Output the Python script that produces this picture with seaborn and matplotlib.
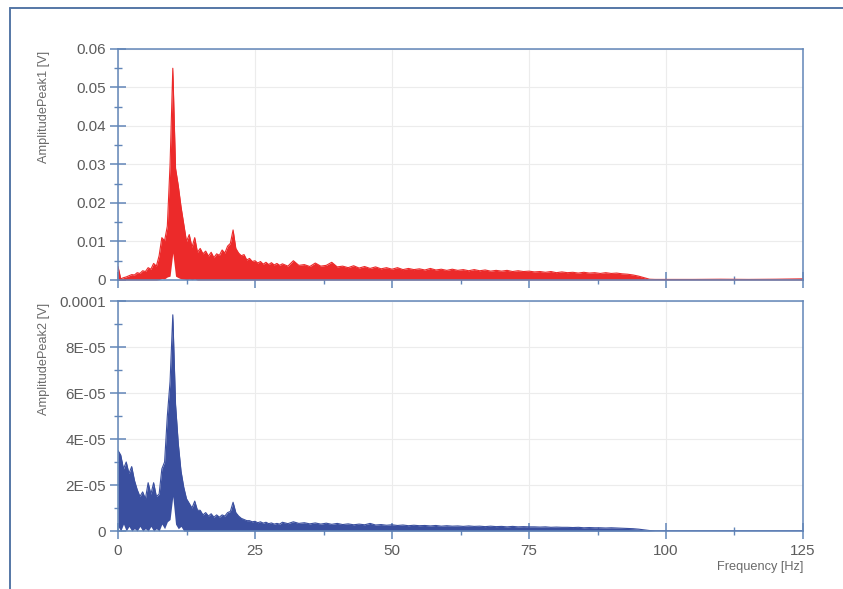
import numpy as np
import pandas as pd
import seaborn as sns
import matplotlib.pyplot as plt
from matplotlib.lines import Line2D
from matplotlib.ticker import MultipleLocator

# frequency grid of the read-off samples [Hz]
freq = np.concatenate([np.arange(0, 30, 0.5), np.arange(30, 100, 1.0), np.arange(100, 126, 5.0)])

# AmplitudePeak1, upper / lower edge of the spectrum band [mV]
peak1_hi = [3.5, 0.3, 0.6, 0.8, 1.1, 1.4, 1.3, 1.9, 1.7, 2.4,
            2.2, 3.2, 2.8, 4.3, 3.6, 6.3, 11.0, 10.2, 14.0, 30.0,
            55.0, 29.0, 24.5, 19.0, 14.5, 10.0, 11.8, 8.5, 11.0, 7.2,
            8.2, 6.8, 7.5, 6.2, 7.2, 5.8, 6.8, 6.4, 7.8, 7.0,
            8.8, 9.5, 13.0, 8.2, 7.0, 6.3, 6.6, 5.2, 5.6, 4.8,
            5.0, 4.4, 4.8, 4.1, 4.6, 4.0, 4.5, 3.9, 4.3, 3.8,
            4.2, 3.6, 5.0, 3.8, 4.0, 3.5, 4.4, 3.6, 3.8, 4.6,
            3.4, 3.6, 3.2, 3.7, 3.1, 3.5, 3.0, 3.4, 2.9, 3.2,
            2.8, 3.2, 2.7, 3.0, 2.7, 2.9, 2.6, 3.0, 2.6, 2.8,
            2.5, 2.8, 2.5, 2.7, 2.4, 2.7, 2.4, 2.6, 2.3, 2.5,
            2.3, 2.5, 2.2, 2.4, 2.2, 2.3, 2.1, 2.2, 2.0, 2.2,
            1.9, 2.1, 1.9, 2.0, 1.8, 2.0, 1.8, 1.9, 1.7, 1.9,
            1.7, 1.8, 1.6, 1.5, 1.3, 1.0, 0.6, 0.2, 0.15, 0.15,
            0.15, 0.15, 0.2, 0.15, 0.2, 0.3]
peak1_lo = ([0, 0, 0, 0, 0, 0, 0, 0, 0, 0,
             0, 0, 0, 0, 0, 0.1, 0.4, 0.3, 0.8, 1.0,
             7.0, 1.0, 0.6, 0.3, 0.2, 0.1, 0.2, 0.1, 0.2, 0]
            + [0.0] * 30 + [0.0] * 70 + [0.0] * 6)

# AmplitudePeak2, upper / lower edge of the spectrum band [1E-05 V]
peak2_hi = [3.5, 3.3, 2.7, 3.0, 2.5, 2.8, 2.2, 1.8, 1.5, 1.7,
            1.4, 2.1, 1.6, 2.1, 1.5, 1.6, 2.7, 3.0, 5.0, 6.5,
            9.4, 5.5, 3.8, 2.6, 1.9, 1.4, 1.2, 1.0, 1.3, 0.9,
            0.9, 0.7, 0.8, 0.65, 0.75, 0.6, 0.7, 0.6, 0.7, 0.65,
            0.8, 0.85, 1.25, 0.8, 0.65, 0.55, 0.5, 0.45, 0.45, 0.4,
            0.42, 0.36, 0.4, 0.34, 0.38, 0.32, 0.35, 0.3, 0.33, 0.3,
            0.38, 0.32, 0.4, 0.33, 0.36, 0.31, 0.35, 0.3, 0.34, 0.29,
            0.33, 0.28, 0.31, 0.27, 0.3, 0.27, 0.33, 0.26, 0.28, 0.25,
            0.27, 0.24, 0.26, 0.23, 0.25, 0.23, 0.24, 0.22, 0.24, 0.21,
            0.23, 0.21, 0.22, 0.2, 0.22, 0.2, 0.21, 0.19, 0.21, 0.19,
            0.2, 0.18, 0.2, 0.18, 0.19, 0.18, 0.18, 0.17, 0.18, 0.16,
            0.17, 0.16, 0.16, 0.15, 0.16, 0.14, 0.15, 0.14, 0.14, 0.13,
            0.14, 0.13, 0.12, 0.11, 0.1, 0.08, 0.05, 0.02, 0.01, 0.01,
            0.01, 0.01, 0.01, 0.01, 0.01, 0.01]
peak2_lo = ([0.2, 0.0, 0.3, 0.0, 0.2, 0.0, 0.1, 0.0, 0.2, 0.0,
             0.1, 0.0, 0.2, 0.0, 0.1, 0.0, 0.3, 0.1, 0.4, 0.5,
             1.5, 0.3, 0.1, 0.2, 0.0, 0.0]
            + [0.0] * 34 + [0.0] * 70 + [0.0] * 6)

yticks1 = [0, 0.01, 0.02, 0.03, 0.04, 0.05, 0.06]
yticklabels1 = ["0", "0.01", "0.02", "0.03", "0.04", "0.05", "0.06"]
yticks2 = [0, 2e-5, 4e-5, 6e-5, 8e-5, 1e-4]
yticklabels2 = ["0", "2E-05", "4E-05", "6E-05", "8E-05", "0.0001"]
xticks = [0, 25, 50, 75, 100, 125]

df1 = pd.DataFrame({"freq": freq, "hi": np.array(peak1_hi) * 1e-3, "lo": np.array(peak1_lo) * 1e-3})
df2 = pd.DataFrame({"freq": freq, "hi": np.array(peak2_hi) * 1e-5, "lo": np.array(peak2_lo) * 1e-5})

sns.set_theme(style="white")
plt.rcParams['font.family'] = ['Liberation Sans', 'DejaVu Sans']

red = '#ec2a2a'
blue = '#3a4f9f'
frame = '#6286b8'
txt = '#5c5c5c'

fig = plt.figure(figsize=(8.43, 5.89), dpi=100)
ax1 = fig.add_axes([0.13998, 0.52462, 0.81257, 0.39219])
ax2 = fig.add_axes([0.13998, 0.09847, 0.81257, 0.39049])

for ax, df, col in [(ax1, df1, red), (ax2, df2, blue)]:
    ax.fill_between(df["freq"], df["lo"], df["hi"], color=col, lw=0)
    sns.lineplot(data=df, x="freq", y="hi", ax=ax, color=col, lw=0.8)


def style(ax, yticks, ylabels, yminor, ylabel):
    ax.set_xlim(0, 125)
    ax.set_ylim(yticks[0], yticks[-1])
    ax.set_xticks(xticks)
    ax.xaxis.set_minor_locator(MultipleLocator(12.5))
    ax.set_yticks(yticks)
    ax.set_yticklabels(ylabels)
    ax.yaxis.set_minor_locator(MultipleLocator(yminor))
    ax.grid(True, which='major', color='#ececec', lw=0.8)
    ax.set_axisbelow(True)
    for s in ax.spines.values():
        s.set_color(frame)
        s.set_linewidth(1.1)
    ax.tick_params(which='major', direction='inout', length=11, width=1.1,
                   color=frame, labelcolor=txt, labelsize=11)
    ax.tick_params(which='minor', direction='inout', length=6, width=1.0, color=frame)
    ax.tick_params(axis='y', which='both', left=True, pad=3.2)
    ax.tick_params(axis='x', which='both', bottom=True, pad=4)
    ax.set_ylabel(ylabel, fontsize=9.2, color='#6a6a6a', loc='top')
    ax.yaxis.label.set_va('center')
    ax.yaxis.set_label_coords(-0.108, 0.99)
    ax.set_xlabel("")


style(ax1, yticks1, yticklabels1, 0.005, "AmplitudePeak1 [V]")
style(ax2, yticks2, yticklabels2, 1e-5, "AmplitudePeak2 [V]")
ax1.tick_params(axis='x', labelbottom=False)
ax2.set_xticklabels([str(v) for v in xticks])
ax2.set_xlabel("Frequency [Hz]", fontsize=9.2, color='#6a6a6a')
ax2.xaxis.label.set_ha('right')
ax2.xaxis.label.set_va('center')
ax2.xaxis.set_label_coords(1.0, -0.155)

# outer panel frame (left and top edge)
fig.add_artist(Line2D([10 / 843, 10 / 843], [0, 1 - 7.5 / 589], transform=fig.transFigure, color='#5577a6', lw=1.4))
fig.add_artist(Line2D([10 / 843, 1], [1 - 7.5 / 589, 1 - 7.5 / 589], transform=fig.transFigure, color='#5577a6', lw=1.4))

fig.savefig("out.png", dpi=100)
